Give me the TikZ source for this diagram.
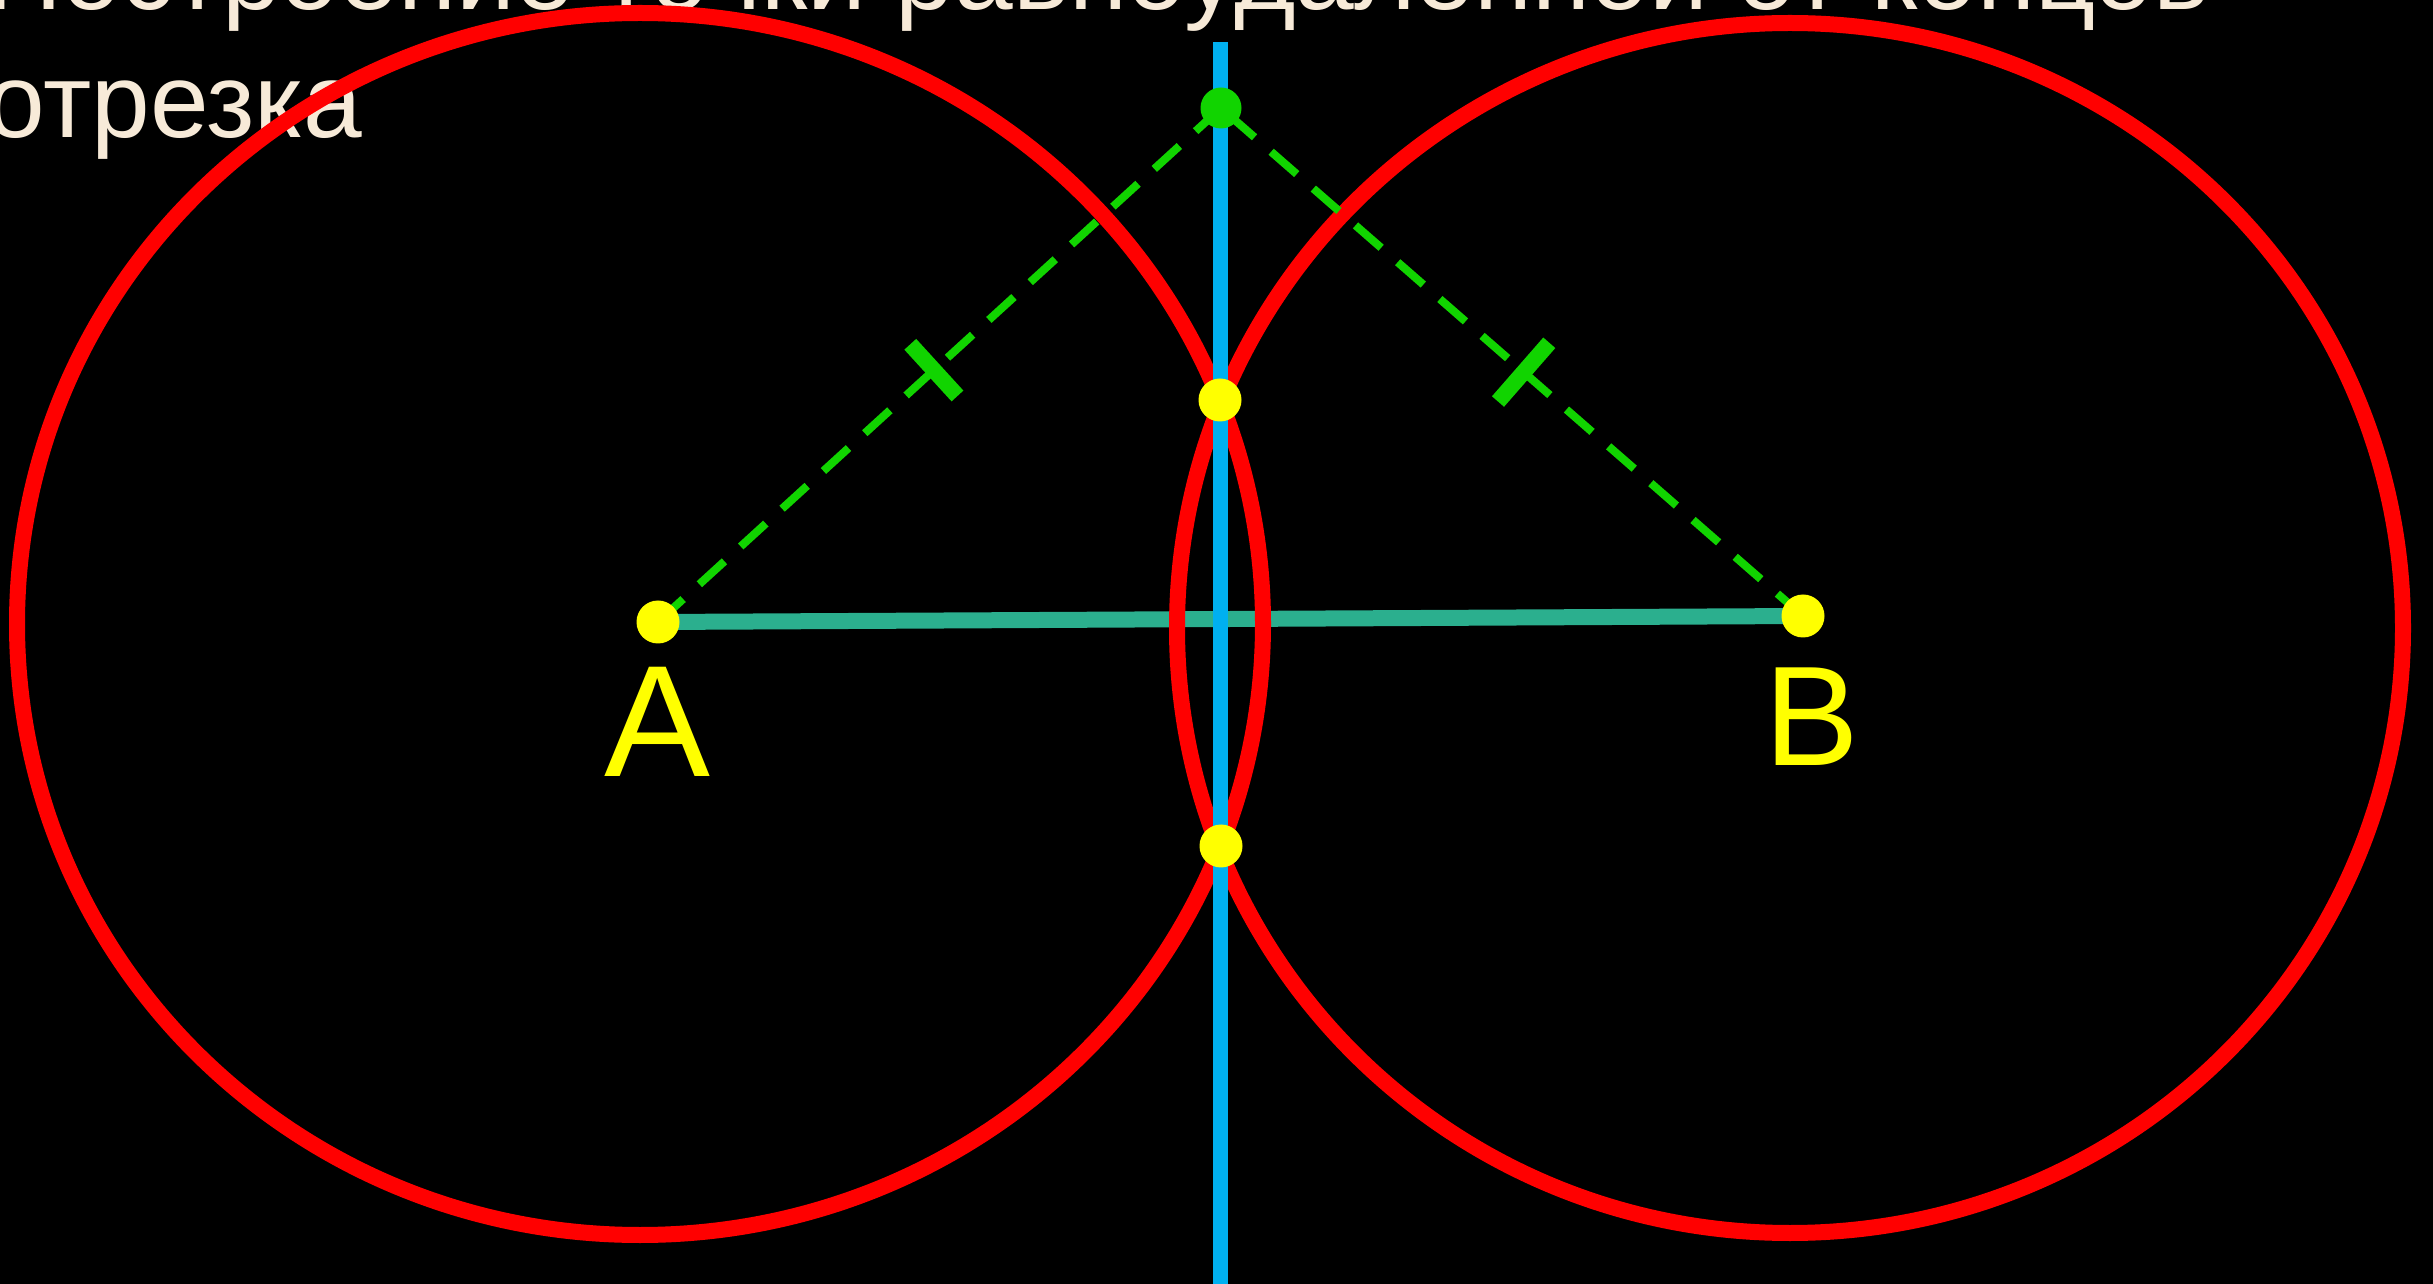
\documentclass[tikz,border=0pt]{standalone}
\usepackage{fontspec}
\setmainfont{Liberation Sans}

\definecolor{titlecream}{RGB}{247,234,216}
\definecolor{arcred}{RGB}{255,0,0}
\definecolor{axisblue}{RGB}{0,176,240}
\definecolor{segteal}{RGB}{43,175,142}
\definecolor{markgreen}{RGB}{17,212,0}
\definecolor{ptyellow}{RGB}{255,255,0}

\begin{document}
\begin{tikzpicture}[
  x=0.1mm, y=-0.1mm,
  title/.style={text=titlecream, anchor=base west, inner sep=0pt, font=\fontsize{30pt}{36pt}\selectfont},
  arc/.style={draw=arcred, line width=1.6mm},
  axis/.style={draw=axisblue, line width=1.5mm},
  seg/.style={draw=segteal, line width=1.6mm},
  equal/.style={draw=markgreen, line width=0.8mm, dash pattern=on 3.4mm off 2.2mm},
  tickmark/.style={fill=markgreen, inner sep=0pt, minimum width=1.6mm, minimum height=7mm, sloped},
  pt/.style={circle, fill=ptyellow, inner sep=0pt, minimum size=4.3mm},
  apex/.style={circle, fill=markgreen, inner sep=0pt, minimum size=4.1mm},
  lab/.style={text=ptyellow, anchor=base, inner sep=0pt}
]
\fill[black] (0,0) rectangle (2433,1284);
\useasboundingbox (0,0) rectangle (2433,1284);
\clip (0,0) rectangle (2433,1284);

\node[title] (line1) at (-14,10) {Построение точки равноудаленной от концов};
\node[title] (line2) at (-14,138) {отрезка};

\coordinate (A) at (658,622);
\coordinate (B) at (1803,616);
\coordinate (G) at (1221,108);
\coordinate (P) at (1220,400);
\coordinate (Q) at (1221,846);
\coordinate (axtop) at (1220,42);
\coordinate (axbot) at (1220,1284);

\draw[seg] (A) -- (B);
\draw[arc] (640,624) ellipse [x radius=623, y radius=611];
\draw[arc] (1790,628) ellipse [x radius=613, y radius=605];
\draw[axis] (axtop) -- (axbot);

\draw[equal] (A) -- node[tickmark, pos=0.49] {} (G);
\draw[equal] (B) -- node[tickmark, pos=0.48, minimum height=7.8mm] {} (G);

\node[pt] (dotA) at (A) {};
\node[pt] (dotB) at (B) {};
\node[pt] (dotP) at (P) {};
\node[pt] (dotQ) at (Q) {};
\node[apex] (dotG) at (G) {};

\node[lab, font=\fontsize{45.2pt}{50pt}\selectfont] (labA) at (657,776) {A};
\node[lab, font=\fontsize{40.4pt}{45pt}\selectfont] (labB) at (1812,765) {B};
\end{tikzpicture}
\end{document}
